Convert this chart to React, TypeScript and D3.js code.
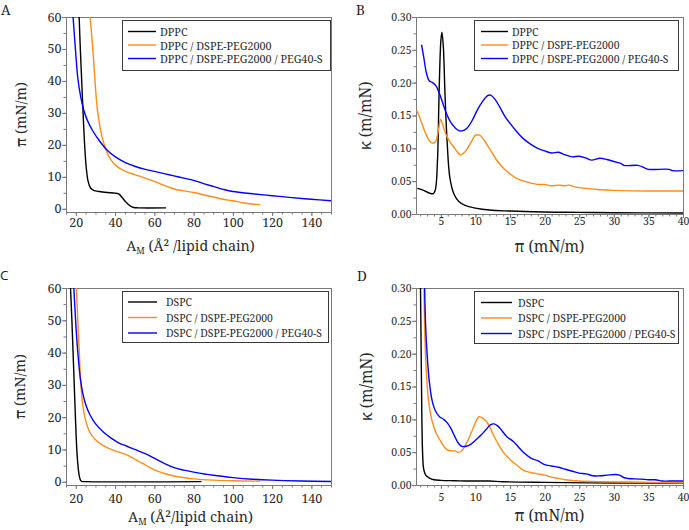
import React, { useEffect, useRef } from 'react';
import * as d3 from 'd3';

type Pt = [number, number];

const W = 689;
const H = 530;
const SERIF = '"Noto Serif", "DejaVu Serif", serif';
const AXIS = '#7a7a7a';
const INK = '#2a2a2a';
const colors = ['#000000', '#ff8c1a', '#0000ff'];

const dppcLegend = ['DPPC', 'DPPC / DSPE-PEG2000', 'DPPC / DSPE-PEG2000 / PEG40-S'];
const dspcLegend = ['DSPC', 'DSPC / DSPE-PEG2000', 'DSPC / DSPE-PEG2000 / PEG40-S'];

const areaTicks = [20, 40, 60, 80, 100, 120, 140];
const pressTicks = [0, 10, 20, 30, 40, 50, 60];
const piTicks = [5, 10, 15, 20, 25, 30, 35, 40];
const kappaTicks = [0, 0.05, 0.1, 0.15, 0.2, 0.25, 0.3];

// A: isotherms, DPPC systems (area, pressure)
const isoDPPC: Pt[] = [[21.7, 60], [22.3, 50], [23, 40], [23.7, 30], [24.5, 20], [25.3, 13], [26.3, 8.5], [27.5, 6.5], [29, 5.8], [32, 5.4], [36, 5.1], [40, 4.9], [42, 4.6], [43.5, 3.6], [45.5, 2.1], [47.5, 1], [49.5, 0.4], [52, 0.3], [66, 0.3]];
const isoDPPCPeg: Pt[] = [[27.3, 60], [28, 55], [29, 47], [30, 38], [31, 31], [32.5, 25], [34, 21], [36, 17.5], [38, 15.2], [41, 13.2], [45, 11.8], [50, 10.7], [55, 9.7], [60, 8.6], [65, 7.3], [70, 6.2], [75, 5.6], [80, 5.1], [85, 4.4], [90, 3.7], [95, 3], [100, 2.5], [105, 1.9], [110, 1.5], [114, 1.3]];
const isoDPPCPegS: Pt[] = [[18.6, 60], [19.8, 50], [21, 41], [22.5, 35], [24, 31], [26, 27.5], [28.5, 24.5], [32, 21.3], [36, 18.3], [40, 16.3], [45, 14.5], [50, 13.3], [55, 12.4], [60, 11.7], [65, 11], [70, 10.3], [75, 9.6], [80, 8.9], [85, 7.9], [90, 7], [95, 6.1], [100, 5.4], [110, 4.7], [120, 4.1], [130, 3.5], [140, 3], [150, 2.5]];

// B: compressibility, DPPC systems (pressure, kappa)
const kDPPC: Pt[] = [[1.6, 0.039], [2.5, 0.036], [3.3, 0.032], [3.9, 0.031], [4.2, 0.037], [4.5, 0.08], [4.75, 0.19], [5.0, 0.265], [5.15, 0.277], [5.35, 0.255], [5.6, 0.18], [5.9, 0.11], [6.3, 0.055], [6.9, 0.03], [7.6, 0.019], [8.5, 0.013], [10, 0.009], [12, 0.006], [15, 0.0045], [20, 0.003], [25, 0.0025], [30, 0.002], [40, 0.0015]];
const kDPPCPeg: Pt[] = [[1.5, 0.158], [2, 0.145], [2.7, 0.125], [3.3, 0.112], [3.8, 0.108], [4.2, 0.11], [4.6, 0.125], [4.95, 0.144], [5.3, 0.135], [5.7, 0.122], [6.3, 0.11], [7, 0.1], [7.8, 0.09], [8.5, 0.095], [9.3, 0.108], [10, 0.12], [10.6, 0.12], [11.2, 0.113], [12, 0.1], [13, 0.083], [14, 0.07], [15, 0.061], [16, 0.054], [17, 0.05], [18, 0.047], [19, 0.045], [20, 0.045], [21, 0.043], [22, 0.044], [23, 0.043], [23.5, 0.044], [24.5, 0.041], [26, 0.039], [28, 0.037], [30, 0.036], [35, 0.035], [40, 0.035]];
const kDPPCPegS: Pt[] = [[2.2, 0.258], [2.5, 0.24], [2.9, 0.215], [3.3, 0.203], [3.8, 0.2], [4.3, 0.195], [4.8, 0.183], [5.3, 0.168], [5.8, 0.153], [6.4, 0.14], [7, 0.132], [7.6, 0.127], [8.2, 0.127], [8.8, 0.131], [9.5, 0.142], [10.2, 0.157], [11, 0.171], [11.7, 0.18], [12.2, 0.181], [12.8, 0.175], [13.5, 0.163], [14.3, 0.148], [15, 0.138], [16, 0.125], [17, 0.114], [18, 0.106], [19, 0.1], [20, 0.096], [21, 0.093], [22, 0.094], [23, 0.09], [24, 0.087], [25, 0.088], [26, 0.085], [26.8, 0.082], [28, 0.085], [29, 0.083], [30, 0.08], [31, 0.077], [31.5, 0.074], [33.5, 0.074], [34.5, 0.07], [35, 0.068], [38, 0.068], [38.5, 0.066], [40, 0.066]];

// C: isotherms, DSPC systems
const isoDSPC: Pt[] = [[17.3, 60], [18, 50], [18.6, 40], [19.2, 30], [19.8, 20], [20.5, 10], [21.1, 5], [21.7, 2], [22.3, 0.6], [23, 0.15], [25, 0.05], [84, 0.05]];
const isoDSPCPeg: Pt[] = [[20.3, 60], [21, 50], [21.7, 41], [22.5, 31], [23.5, 24], [25, 19], [27, 15.5], [30, 13], [34, 11.2], [38, 10], [42, 9.2], [46, 8.3], [50, 7], [54, 5.7], [58, 4.3], [62, 3.2], [66, 2.4], [70, 1.8], [75, 1.3], [80, 0.9], [90, 0.5], [100, 0.3], [114, 0.2]];
const isoDSPCPegS: Pt[] = [[19, 60], [19.7, 52], [20.4, 45], [21.3, 38], [22.3, 32], [23.5, 27.5], [25, 24], [27, 21], [30, 18], [34, 15.4], [38, 13.5], [42, 12], [46, 11], [50, 10], [55, 8.8], [60, 7.3], [65, 5.7], [70, 4.4], [75, 3.6], [80, 3], [90, 2], [100, 1.3], [110, 0.8], [120, 0.5], [135, 0.25], [150, 0.1]];

// D: compressibility, DSPC systems
const kDSPC: Pt[] = [[2.05, 0.3], [2.15, 0.2], [2.25, 0.1], [2.35, 0.05], [2.5, 0.025], [2.8, 0.015], [3.3, 0.011], [4, 0.008], [5, 0.007], [7, 0.0065], [9, 0.006], [12, 0.006], [14, 0.005], [20, 0.004], [30, 0.003], [40, 0.003]];
const kDSPCPeg: Pt[] = [[2.55, 0.3], [2.7, 0.22], [2.9, 0.17], [3.2, 0.13], [3.6, 0.103], [4, 0.088], [4.5, 0.075], [5, 0.066], [5.5, 0.058], [6, 0.053], [6.5, 0.052], [7, 0.052], [7.5, 0.05], [7.9, 0.051], [8.4, 0.058], [9, 0.07], [9.6, 0.085], [10.2, 0.1], [10.5, 0.104], [11, 0.102], [11.5, 0.098], [12, 0.09], [12.5, 0.078], [13.2, 0.064], [14, 0.05], [15, 0.039], [16, 0.03], [17, 0.022], [18, 0.019], [19, 0.017], [20, 0.015], [21, 0.012], [22, 0.01], [23, 0.008], [25, 0.006], [28, 0.005], [32, 0.0045], [40, 0.0035]];
const kDSPCPegS: Pt[] = [[2.65, 0.3], [2.8, 0.24], [3.0, 0.2], [3.3, 0.16], [3.7, 0.13], [4.2, 0.113], [4.8, 0.104], [5.4, 0.1], [5.9, 0.095], [6.4, 0.087], [7, 0.074], [7.5, 0.064], [8, 0.059], [8.7, 0.059], [9.3, 0.062], [10, 0.068], [10.8, 0.076], [11.5, 0.084], [12.2, 0.092], [12.7, 0.093], [13.2, 0.09], [13.8, 0.083], [14.5, 0.074], [15.5, 0.066], [16.2, 0.058], [17, 0.049], [18, 0.041], [19, 0.037], [20, 0.031], [21, 0.029], [22, 0.027], [23, 0.024], [24, 0.021], [25, 0.018], [26, 0.017], [27, 0.014], [28, 0.014], [29, 0.015], [30.3, 0.016], [30.8, 0.015], [31.5, 0.011], [32, 0.01], [34, 0.009], [35, 0.008], [36, 0.008], [37, 0.006], [38, 0.006], [40, 0.006]];

interface Panel {
  id: string;
  letter: string;
  letterPos: [number, number];
  box: { left: number; right: number; top: number; bottom: number };
  isotherm: boolean;
  series: Pt[][];
  legend: string[];
  legendFont: number;
  leg: { x: number; y: number; w: number; h: number; l0: number; l1: number; tx: number; rows: number[] };
  xPad: number;
  xLabelY: number;
  yLabelX: number;
  spaceInLabel: boolean;
}

const panels: Panel[] = [
  {
    id: 'A', letter: 'A', letterPos: [1, 15],
    box: { left: 66, right: 331, top: 17, bottom: 212 },
    isotherm: true, series: [isoDPPC, isoDPPCPeg, isoDPPCPegS], legend: dppcLegend, legendFont: 10.8,
    leg: { x: 122, y: 20, w: 208, h: 50, l0: 128, l1: 156, tx: 160, rows: [31.5, 45, 58.5] },
    xPad: 2, xLabelY: 251, yLabelX: 20, spaceInLabel: true,
  },
  {
    id: 'B', letter: 'B', letterPos: [356, 15],
    box: { left: 416, right: 683, top: 17, bottom: 214 },
    isotherm: false, series: [kDPPC, kDPPCPeg, kDPPCPegS], legend: dppcLegend, legendFont: 10.4,
    leg: { x: 474, y: 20, w: 204, h: 50, l0: 481, l1: 508, tx: 512, rows: [31.5, 45, 58.5] },
    xPad: 0, xLabelY: 252, yLabelX: 365, spaceInLabel: false,
  },
  {
    id: 'C', letter: 'C', letterPos: [0, 280],
    box: { left: 66, right: 331, top: 288, bottom: 485 },
    isotherm: true, series: [isoDSPC, isoDSPCPeg, isoDSPCPegS], legend: dspcLegend, legendFont: 10.4,
    leg: { x: 122, y: 291, w: 206, h: 51, l0: 128, l1: 157, tx: 166, rows: [302, 317.5, 333] },
    xPad: 5, xLabelY: 522, yLabelX: 19, spaceInLabel: false,
  },
  {
    id: 'D', letter: 'D', letterPos: [357, 281],
    box: { left: 416, right: 683, top: 288, bottom: 485 },
    isotherm: false, series: [kDSPC, kDSPCPeg, kDSPCPegS], legend: dspcLegend, legendFont: 10.5,
    leg: { x: 474, y: 291, w: 204, h: 52, l0: 481, l1: 512, tx: 518, rows: [302.5, 318, 333.5] },
    xPad: 5, xLabelY: 521, yLabelX: 366, spaceInLabel: false,
  },
];

function drawPanel(svg: d3.Selection<SVGSVGElement, unknown, null, undefined>, p: Panel) {
  const { left, right, top, bottom } = p.box;
  const x = d3.scaleLinear()
    .domain(p.isotherm ? [15, 150] : [1.4, 40])
    .range([left, right]);
  const y = d3.scaleLinear()
    .domain(p.isotherm ? [-1, 60] : [0, 0.3])
    .range([bottom, top]);

  const tickFont = p.isotherm ? 12.5 : 10.5;
  const titleFont = p.isotherm ? 14.3 : 15.4;
  const g = svg.append('g');

  // frame
  g.append('rect')
    .attr('x', left + 0.5).attr('y', top + 0.5)
    .attr('width', right - left).attr('height', bottom - top)
    .attr('fill', 'none').attr('stroke', AXIS).attr('stroke-width', 1);

  const xMinor = p.isotherm ? d3.range(15, 151, 5) : d3.range(2, 41, 1);
  const yMinor = p.isotherm ? d3.range(0, 61, 5) : d3.range(0, 0.301, 0.025);

  const gxm = g.append('g').attr('transform', `translate(0,${bottom})`)
    .call(d3.axisBottom(x).tickValues(xMinor).tickSize(2.5).tickSizeOuter(0).tickFormat(() => ''));
  const gx = g.append('g').attr('transform', `translate(0,${bottom})`)
    .call(d3.axisBottom(x).tickValues(p.isotherm ? areaTicks : piTicks).tickSize(4).tickSizeOuter(0)
      .tickPadding(p.xPad).tickFormat(d3.format('d')));
  const gym = g.append('g').attr('transform', `translate(${left},0)`)
    .call(d3.axisLeft(y).tickValues(yMinor).tickSize(2.5).tickSizeOuter(0).tickFormat(() => ''));
  const gy = g.append('g').attr('transform', `translate(${left},0)`)
    .call(d3.axisLeft(y).tickValues(p.isotherm ? pressTicks : kappaTicks).tickSize(4).tickSizeOuter(0)
      .tickPadding(0.5).tickFormat(p.isotherm ? d3.format('d') : d3.format('.2f')));

  [gxm, gx, gym, gy].forEach(a => {
    a.select('.domain').attr('stroke', AXIS);
    a.selectAll('.tick line').attr('stroke', AXIS);
    a.selectAll('.tick text')
      .attr('fill', INK)
      .style('font-family', SERIF)
      .style('font-size', `${tickFont}px`);
  });

  // curves
  const clipId = `clip-${p.id}`;
  svg.append('clipPath').attr('id', clipId)
    .append('rect').attr('x', left).attr('y', top).attr('width', right - left).attr('height', bottom - top);

  const line = d3.line<Pt>()
    .x(d => x(d[0]))
    .y(d => y(d[1]))
    .curve(d3.curveCatmullRom.alpha(0.5));

  const curves = g.append('g').attr('clip-path', `url(#${clipId})`);
  p.series.forEach((s, i) => {
    curves.append('path')
      .datum(s)
      .attr('fill', 'none')
      .attr('stroke', colors[i])
      .attr('stroke-width', 1.4)
      .attr('d', line);
  });

  // legend
  const lg = g.append('g');
  lg.append('rect')
    .attr('x', p.leg.x + 0.5).attr('y', p.leg.y + 0.5)
    .attr('width', p.leg.w).attr('height', p.leg.h)
    .attr('fill', '#fff').attr('stroke', '#3a3a3a').attr('stroke-width', 1);
  p.legend.forEach((name, i) => {
    const ry = p.leg.rows[i];
    lg.append('line')
      .attr('x1', p.leg.l0).attr('x2', p.leg.l1)
      .attr('y1', ry).attr('y2', ry)
      .attr('stroke', colors[i]).attr('stroke-width', 1.4);
    lg.append('text')
      .attr('x', p.leg.tx).attr('y', ry)
      .attr('dominant-baseline', 'central')
      .style('font-family', SERIF).style('font-size', `${p.legendFont}px`)
      .attr('fill', INK)
      .text(name);
  });

  // axis titles
  const xl = svg.append('text')
    .attr('x', (left + right) / 2 + (p.isotherm ? -8 : 0))
    .attr('y', p.xLabelY)
    .attr('text-anchor', 'middle')
    .style('font-family', SERIF).style('font-size', `${titleFont}px`)
    .attr('fill', INK);
  if (p.isotherm) {
    xl.append('tspan').text('A');
    xl.append('tspan').attr('dy', 3).style('font-size', '9px').text('M');
    xl.append('tspan').attr('dy', -3).text(p.spaceInLabel ? ' (Å² /lipid chain)' : ' (Å²/lipid chain)');
  } else {
    xl.text('π (mN/m)');
  }

  const cy = (top + bottom) / 2;
  svg.append('text')
    .attr('transform', `translate(${p.yLabelX},${cy}) rotate(-90)`)
    .attr('text-anchor', 'middle')
    .attr('dominant-baseline', 'central')
    .style('font-family', SERIF).style('font-size', `${titleFont}px`)
    .attr('fill', INK)
    .text(p.isotherm ? 'π (mN/m)' : 'κ (m/mN)');

  // panel letter
  svg.append('text')
    .attr('x', p.letterPos[0]).attr('y', p.letterPos[1])
    .style('font-family', p.id === 'C' ? '"Open Sans", sans-serif' : SERIF).style('font-size', '13.5px')
    .attr('fill', '#222')
    .text(p.letter);
}

const App = () => {
  const ref = useRef<SVGSVGElement>(null);

  useEffect(() => {
    const svg = d3.select(ref.current as SVGSVGElement);
    svg.selectAll('*').remove();
    svg.append('rect').attr('width', W).attr('height', H).attr('fill', '#fff');
    panels.forEach(p => drawPanel(svg, p));
  }, []);

  return (
    <svg
      ref={ref}
      width={W}
      height={H}
      style={{ position: 'absolute', left: 0, top: 0, display: 'block' }}
    />
  );
};

export default App;
